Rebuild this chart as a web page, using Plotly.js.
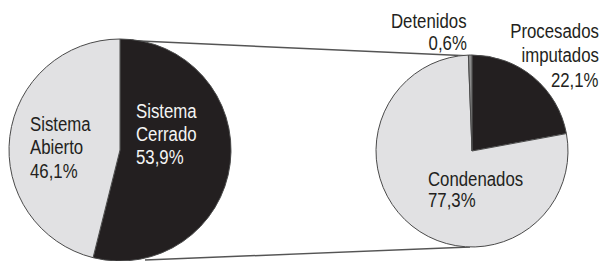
<!DOCTYPE html>
<html>
<head>
<meta charset="utf-8">
<script src="https://cdn.plot.ly/plotly-3.0.1.min.js"></script>
<style>html,body{margin:0;padding:0;background:#fff;}#chart{width:603px;height:261px;}</style>
</head>
<body>
<div id="chart"></div>
<script>
// ---- data ----
const leftLabels = ["Sistema Cerrado", "Sistema Abierto"];
const leftValues = [53.9, 46.1];
const rightLabels = ["Procesados imputados", "Condenados", "Detenidos"];
const rightValues = [22.1, 77.3, 0.6];

// ---- styling ----
const W = 603, H = 261;
const DARK = "#231f20", LIGHT = "#e1e1e3", MID = "#8c8c8c";
const FONT = '"Liberation Sans", Arial, sans-serif';
const FS = 21;
const SQUEEZE = 0.8; // condensed look of the original typeface
const px = x => x / W;
const py = y => 1 - y / H;

const leftColors = [DARK, LIGHT];
const rightColors = [DARK, LIGHT, MID];

// label block placement per slice: [x, first baseline, line spacing, anchor, text colour]
const leftPlace = [[135, 118, 23, "left", "#f4f4f4"], [29, 131, 23.5, "left", DARK]];
const rightPlace = [[600, 38, 24.5, "right", DARK], [427, 186, 21.5, "left", DARK], [468, 28, 22, "right", DARK]];

const fmt = v => v.toFixed(1).replace(".", ",") + "%";

function labelAnnotations(labels, values, place) {
  const out = [];
  labels.forEach((lab, i) => {
    const lines = lab.split(" ").concat([fmt(values[i])]);
    const [x, y0, dy, anchor, col] = place[i];
    lines.forEach((t, k) => {
      out.push({
        xref: "paper", yref: "paper",
        x: px(x), y: py(y0 + k * dy - 0.36 * FS),
        xanchor: anchor, yanchor: "middle", align: anchor,
        text: t, showarrow: false, borderpad: 0,
        font: {family: FONT, size: FS, color: col}
      });
    });
  });
  return out;
}

const lineStyle = {color: "#555555", width: 1.5};

const data = [
  {
    type: "pie", labels: leftLabels, values: leftValues,
    sort: false, direction: "clockwise", rotation: 0,
    textinfo: "none", hoverinfo: "none",
    marker: {colors: leftColors, line: {color: "#4a4a4a", width: 1}},
    domain: {x: [px(120 - 111), px(120 + 111)], y: [py(261), py(39)]}
  },
  {
    type: "pie", labels: rightLabels, values: rightValues,
    sort: false, direction: "clockwise", rotation: 0,
    textinfo: "none", hoverinfo: "none",
    marker: {colors: rightColors, line: {color: "#4a4a4a", width: 1}},
    domain: {x: [px(472 - 96), px(472 + 96)], y: [py(247), py(55)]}
  }
];

const layout = {
  width: W, height: H,
  margin: {l: 0, r: 0, t: 0, b: 0},
  paper_bgcolor: "#ffffff", plot_bgcolor: "#ffffff",
  showlegend: false,
  shapes: [
    {type: "line", xref: "paper", yref: "paper", x0: px(118), y0: py(40), x1: px(472), y1: py(56), line: lineStyle, layer: "below"},
    {type: "line", xref: "paper", yref: "paper", x0: px(145), y0: py(260), x1: px(470), y1: py(247), line: lineStyle, layer: "below"}
  ],
  annotations: labelAnnotations(leftLabels, leftValues, leftPlace)
    .concat(labelAnnotations(rightLabels, rightValues, rightPlace))
};

Plotly.newPlot("chart", data, layout, {staticPlot: true, displayModeBar: false}).then(() => {
  document.querySelectorAll("#chart g.annotation").forEach(g => {
    const idx = +g.getAttribute("data-index");
    const ann = layout.annotations[idx];
    const t = g.querySelector("text.annotation-text");
    if (!t || !ann) return;
    const b = t.getBBox();
    const ax = ann.xanchor === "right" ? b.x + b.width : b.x;
    const prev = t.getAttribute("transform") || "";
    t.setAttribute("transform",
      `translate(${ax.toFixed(2)},0) scale(${SQUEEZE},1) translate(${(-ax).toFixed(2)},0) ${prev}`);
  });
});
</script>
</body>
</html>
